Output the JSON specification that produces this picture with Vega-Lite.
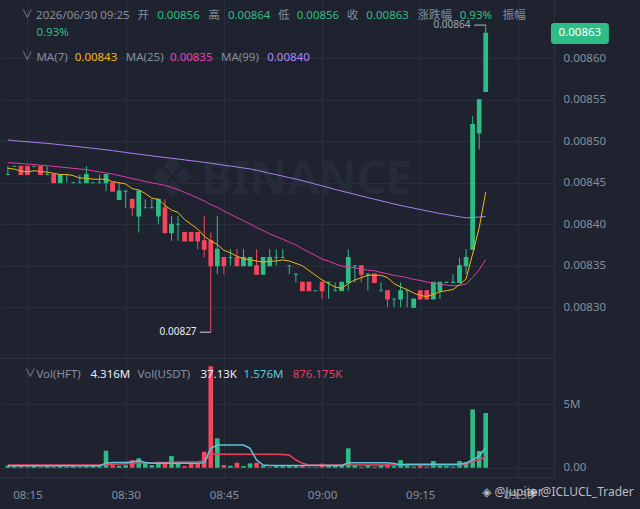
{
  "$schema": "https://vega.github.io/schema/vega-lite/v6.json",
  "background": "#1f2330",
  "padding": {"left": 0, "top": 0, "right": 640, "bottom": 509},
  "autosize": {"type": "none"},
  "spacing": 0,
  "config": {
    "view": {"stroke": null},
    "font": "Noto Sans, Noto Sans CJK SC, DejaVu Sans",
    "axis": {"labelColor": "#848e9c", "labelFontSize": 11.5, "labelFont": "Noto Sans", "gridColor": "#2a2f3c", "domainColor": "#2c313e", "ticks": false, "titleFontSize": 0}
  },
  "datasets": {
    "one": [{}],
    "k": [
      {"t":"2026-06-30T08:12:00","o":0.00846,"h":0.00847,"l":0.00846,"c":0.00846,"v":160000,"m7":0.0084675,"m25":0.0084742,"m99":0.0085016,"v5":160000,"v10":210000},
      {"t":"2026-06-30T08:13:00","o":0.00847,"h":0.00847,"l":0.00847,"c":0.00847,"v":120000,"m7":0.0084665,"m25":0.0084738,"m99":0.0085007,"v5":160000,"v10":210000},
      {"t":"2026-06-30T08:14:00","o":0.00847,"h":0.00847,"l":0.00846,"c":0.00846,"v":120000,"m7":0.0084640,"m25":0.0084732,"m99":0.0085000,"v5":160000,"v10":210000},
      {"t":"2026-06-30T08:15:00","o":0.00847,"h":0.00847,"l":0.00846,"c":0.00846,"v":80000,"m7":0.0084630,"m25":0.0084725,"m99":0.0084994,"v5":160000,"v10":210000},
      {"t":"2026-06-30T08:16:00","o":0.00847,"h":0.00847,"l":0.00847,"c":0.00847,"v":160000,"m7":0.0084645,"m25":0.0084720,"m99":0.0084988,"v5":160000,"v10":210000},
      {"t":"2026-06-30T08:17:00","o":0.00847,"h":0.00847,"l":0.00846,"c":0.00846,"v":80000,"m7":0.0084635,"m25":0.0084712,"m99":0.0084981,"v5":160000,"v10":210000},
      {"t":"2026-06-30T08:18:00","o":0.00846,"h":0.00847,"l":0.00846,"c":0.00846,"v":120000,"m7":0.0084629,"m25":0.0084705,"m99":0.0084975,"v5":160000,"v10":210000},
      {"t":"2026-06-30T08:19:00","o":0.00846,"h":0.00846,"l":0.00845,"c":0.00845,"v":80000,"m7":0.0084614,"m25":0.0084698,"m99":0.0084967,"v5":160000,"v10":210000},
      {"t":"2026-06-30T08:20:00","o":0.00845,"h":0.00846,"l":0.00845,"c":0.00846,"v":120000,"m7":0.0084600,"m25":0.0084690,"m99":0.0084959,"v5":160000,"v10":210000},
      {"t":"2026-06-30T08:21:00","o":0.00846,"h":0.00846,"l":0.00845,"c":0.00846,"v":80000,"m7":0.0084600,"m25":0.0084682,"m99":0.0084950,"v5":160000,"v10":210000},
      {"t":"2026-06-30T08:22:00","o":0.00845,"h":0.00845,"l":0.00845,"c":0.00845,"v":120000,"m7":0.0084586,"m25":0.0084674,"m99":0.0084942,"v5":160000,"v10":210000},
      {"t":"2026-06-30T08:23:00","o":0.00845,"h":0.00846,"l":0.00845,"c":0.00845,"v":80000,"m7":0.0084557,"m25":0.0084666,"m99":0.0084933,"v5":160000,"v10":210000},
      {"t":"2026-06-30T08:24:00","o":0.00845,"h":0.00847,"l":0.00845,"c":0.00846,"v":120000,"m7":0.0084557,"m25":0.0084658,"m99":0.0084924,"v5":160000,"v10":210000},
      {"t":"2026-06-30T08:25:00","o":0.00845,"h":0.00845,"l":0.00845,"c":0.00845,"v":160000,"m7":0.0084543,"m25":0.0084644,"m99":0.0084916,"v5":160000,"v10":210000},
      {"t":"2026-06-30T08:26:00","o":0.00845,"h":0.00846,"l":0.00845,"c":0.00845,"v":120000,"m7":0.0084543,"m25":0.0084630,"m99":0.0084906,"v5":160000,"v10":210000},
      {"t":"2026-06-30T08:27:00","o":0.00845,"h":0.00846,"l":0.00844,"c":0.00846,"v":1340000,"m7":0.0084543,"m25":0.0084618,"m99":0.0084897,"v5":350000,"v10":250000},
      {"t":"2026-06-30T08:28:00","o":0.00845,"h":0.00845,"l":0.00844,"c":0.00844,"v":200000,"m7":0.0084514,"m25":0.0084606,"m99":0.0084887,"v5":410000,"v10":270000},
      {"t":"2026-06-30T08:29:00","o":0.00843,"h":0.00845,"l":0.00843,"c":0.00844,"v":160000,"m7":0.0084500,"m25":0.0084588,"m99":0.0084876,"v5":410000,"v10":290000},
      {"t":"2026-06-30T08:30:00","o":0.00844,"h":0.00844,"l":0.00842,"c":0.00844,"v":200000,"m7":0.0084486,"m25":0.0084570,"m99":0.0084865,"v5":410000,"v10":310000},
      {"t":"2026-06-30T08:31:00","o":0.00843,"h":0.00843,"l":0.00841,"c":0.00842,"v":600000,"m7":0.0084429,"m25":0.0084550,"m99":0.0084855,"v5":450000,"v10":330000},
      {"t":"2026-06-30T08:32:00","o":0.00841,"h":0.00844,"l":0.00839,"c":0.00844,"v":740000,"m7":0.0084414,"m25":0.0084535,"m99":0.0084845,"v5":550000,"v10":350000},
      {"t":"2026-06-30T08:33:00","o":0.00842,"h":0.00843,"l":0.00842,"c":0.00842,"v":400000,"m7":0.0084371,"m25":0.0084515,"m99":0.0084834,"v5":410000,"v10":370000},
      {"t":"2026-06-30T08:34:00","o":0.00842,"h":0.00843,"l":0.00842,"c":0.00842,"v":200000,"m7":0.0084314,"m25":0.0084498,"m99":0.0084824,"v5":350000,"v10":380000},
      {"t":"2026-06-30T08:35:00","o":0.00841,"h":0.00843,"l":0.00840,"c":0.00843,"v":470000,"m7":0.0084300,"m25":0.0084485,"m99":0.0084814,"v5":350000,"v10":400000},
      {"t":"2026-06-30T08:36:00","o":0.00842,"h":0.00843,"l":0.00839,"c":0.00839,"v":400000,"m7":0.0084229,"m25":0.0084468,"m99":0.0084805,"v5":350000,"v10":410000},
      {"t":"2026-06-30T08:37:00","o":0.00839,"h":0.00841,"l":0.00838,"c":0.00840,"v":920000,"m7":0.0084171,"m25":0.0084444,"m99":0.0084795,"v5":350000,"v10":420000},
      {"t":"2026-06-30T08:38:00","o":0.00840,"h":0.00841,"l":0.00838,"c":0.00840,"v":470000,"m7":0.0084143,"m25":0.0084416,"m99":0.0084786,"v5":350000,"v10":440000},
      {"t":"2026-06-30T08:39:00","o":0.00839,"h":0.00839,"l":0.00838,"c":0.00838,"v":130000,"m7":0.0084057,"m25":0.0084384,"m99":0.0084776,"v5":350000,"v10":450000},
      {"t":"2026-06-30T08:40:00","o":0.00839,"h":0.00839,"l":0.00838,"c":0.00838,"v":320000,"m7":0.0084000,"m25":0.0084352,"m99":0.0084766,"v5":350000,"v10":460000},
      {"t":"2026-06-30T08:41:00","o":0.00839,"h":0.00839,"l":0.00837,"c":0.00838,"v":320000,"m7":0.0083943,"m25":0.0084316,"m99":0.0084757,"v5":350000,"v10":470000},
      {"t":"2026-06-30T08:42:00","o":0.00838,"h":0.00841,"l":0.00836,"c":0.00837,"v":1260000,"m7":0.0083857,"m25":0.0084280,"m99":0.0084746,"v5":400000,"v10":530000},
      {"t":"2026-06-30T08:43:00","o":0.00838,"h":0.00839,"l":0.00827,"c":0.00835,"v":8000000,"m7":0.0083800,"m25":0.0084236,"m99":0.0084735,"v5":1530000,"v10":1040000},
      {"t":"2026-06-30T08:44:00","o":0.00835,"h":0.00841,"l":0.00834,"c":0.00837,"v":2320000,"m7":0.0083757,"m25":0.0084204,"m99":0.0084724,"v5":1790000,"v10":1060000},
      {"t":"2026-06-30T08:45:00","o":0.00836,"h":0.00836,"l":0.00834,"c":0.00835,"v":210000,"m7":0.0083686,"m25":0.0084160,"m99":0.0084712,"v5":1790000,"v10":1060000},
      {"t":"2026-06-30T08:46:00","o":0.00836,"h":0.00837,"l":0.00835,"c":0.00836,"v":160000,"m7":0.0083657,"m25":0.0084120,"m99":0.0084701,"v5":1790000,"v10":1060000},
      {"t":"2026-06-30T08:47:00","o":0.00836,"h":0.00837,"l":0.00835,"c":0.00835,"v":400000,"m7":0.0083614,"m25":0.0084080,"m99":0.0084690,"v5":1790000,"v10":1060000},
      {"t":"2026-06-30T08:48:00","o":0.00835,"h":0.00837,"l":0.00835,"c":0.00836,"v":130000,"m7":0.0083586,"m25":0.0084044,"m99":0.0084678,"v5":1790000,"v10":1060000},
      {"t":"2026-06-30T08:49:00","o":0.00835,"h":0.00836,"l":0.00835,"c":0.00836,"v":340000,"m7":0.0083571,"m25":0.0084004,"m99":0.0084667,"v5":1530000,"v10":1060000},
      {"t":"2026-06-30T08:50:00","o":0.00835,"h":0.00837,"l":0.00834,"c":0.00834,"v":400000,"m7":0.0083557,"m25":0.0083960,"m99":0.0084651,"v5":610000,"v10":1060000},
      {"t":"2026-06-30T08:51:00","o":0.00834,"h":0.00836,"l":0.00834,"c":0.00836,"v":160000,"m7":0.0083543,"m25":0.0083924,"m99":0.0084633,"v5":210000,"v10":1060000},
      {"t":"2026-06-30T08:52:00","o":0.00835,"h":0.00837,"l":0.00835,"c":0.00836,"v":40000,"m7":0.0083557,"m25":0.0083884,"m99":0.0084614,"v5":180000,"v10":1060000},
      {"t":"2026-06-30T08:53:00","o":0.00836,"h":0.00837,"l":0.00835,"c":0.00836,"v":130000,"m7":0.0083557,"m25":0.0083852,"m99":0.0084598,"v5":180000,"v10":1060000},
      {"t":"2026-06-30T08:54:00","o":0.00836,"h":0.00837,"l":0.00836,"c":0.00836,"v":130000,"m7":0.0083571,"m25":0.0083820,"m99":0.0084580,"v5":180000,"v10":1040000},
      {"t":"2026-06-30T08:55:00","o":0.00835,"h":0.00835,"l":0.00834,"c":0.00835,"v":130000,"m7":0.0083557,"m25":0.0083784,"m99":0.0084561,"v5":180000,"v10":1000000},
      {"t":"2026-06-30T08:56:00","o":0.00834,"h":0.00834,"l":0.00833,"c":0.00834,"v":130000,"m7":0.0083529,"m25":0.0083752,"m99":0.0084545,"v5":180000,"v10":610000},
      {"t":"2026-06-30T08:57:00","o":0.00833,"h":0.00833,"l":0.00832,"c":0.00832,"v":210000,"m7":0.0083500,"m25":0.0083704,"m99":0.0084525,"v5":180000,"v10":350000},
      {"t":"2026-06-30T08:58:00","o":0.00833,"h":0.00833,"l":0.00832,"c":0.00832,"v":40000,"m7":0.0083443,"m25":0.0083664,"m99":0.0084505,"v5":180000,"v10":210000},
      {"t":"2026-06-30T08:59:00","o":0.00832,"h":0.00832,"l":0.00832,"c":0.00832,"v":40000,"m7":0.0083386,"m25":0.0083624,"m99":0.0084483,"v5":180000,"v10":210000},
      {"t":"2026-06-30T09:00:00","o":0.00833,"h":0.00833,"l":0.00831,"c":0.00832,"v":320000,"m7":0.0083329,"m25":0.0083580,"m99":0.0084463,"v5":180000,"v10":210000},
      {"t":"2026-06-30T09:01:00","o":0.00833,"h":0.00833,"l":0.00831,"c":0.00833,"v":210000,"m7":0.0083286,"m25":0.0083556,"m99":0.0084442,"v5":180000,"v10":210000},
      {"t":"2026-06-30T09:02:00","o":0.00832,"h":0.00833,"l":0.00832,"c":0.00832,"v":160000,"m7":0.0083243,"m25":0.0083524,"m99":0.0084420,"v5":180000,"v10":210000},
      {"t":"2026-06-30T09:03:00","o":0.00832,"h":0.00833,"l":0.00832,"c":0.00833,"v":130000,"m7":0.0083229,"m25":0.0083496,"m99":0.0084400,"v5":180000,"v10":210000},
      {"t":"2026-06-30T09:04:00","o":0.00833,"h":0.00837,"l":0.00832,"c":0.00836,"v":1530000,"m7":0.0083286,"m25":0.0083488,"m99":0.0084380,"v5":390000,"v10":210000},
      {"t":"2026-06-30T09:05:00","o":0.00835,"h":0.00835,"l":0.00833,"c":0.00835,"v":210000,"m7":0.0083329,"m25":0.0083476,"m99":0.0084360,"v5":390000,"v10":210000},
      {"t":"2026-06-30T09:06:00","o":0.00835,"h":0.00835,"l":0.00833,"c":0.00834,"v":80000,"m7":0.0083357,"m25":0.0083460,"m99":0.0084341,"v5":390000,"v10":210000},
      {"t":"2026-06-30T09:07:00","o":0.00834,"h":0.00834,"l":0.00832,"c":0.00834,"v":210000,"m7":0.0083386,"m25":0.0083448,"m99":0.0084321,"v5":390000,"v10":210000},
      {"t":"2026-06-30T09:08:00","o":0.00834,"h":0.00834,"l":0.00833,"c":0.00833,"v":80000,"m7":0.0083386,"m25":0.0083440,"m99":0.0084302,"v5":390000,"v10":210000},
      {"t":"2026-06-30T09:09:00","o":0.00832,"h":0.00833,"l":0.00832,"c":0.00832,"v":210000,"m7":0.0083386,"m25":0.0083420,"m99":0.0084283,"v5":390000,"v10":210000},
      {"t":"2026-06-30T09:10:00","o":0.00832,"h":0.00832,"l":0.00830,"c":0.00831,"v":260000,"m7":0.0083357,"m25":0.0083404,"m99":0.0084263,"v5":390000,"v10":210000},
      {"t":"2026-06-30T09:11:00","o":0.00831,"h":0.00831,"l":0.00830,"c":0.00831,"v":130000,"m7":0.0083286,"m25":0.0083384,"m99":0.0084245,"v5":330000,"v10":210000},
      {"t":"2026-06-30T09:12:00","o":0.00831,"h":0.00833,"l":0.00830,"c":0.00832,"v":600000,"m7":0.0083243,"m25":0.0083372,"m99":0.0084227,"v5":240000,"v10":210000},
      {"t":"2026-06-30T09:13:00","o":0.00832,"h":0.00832,"l":0.00830,"c":0.00832,"v":210000,"m7":0.0083214,"m25":0.0083356,"m99":0.0084210,"v5":270000,"v10":210000},
      {"t":"2026-06-30T09:14:00","o":0.00830,"h":0.00831,"l":0.00830,"c":0.00831,"v":80000,"m7":0.0083171,"m25":0.0083336,"m99":0.0084194,"v5":270000,"v10":210000},
      {"t":"2026-06-30T09:15:00","o":0.00832,"h":0.00832,"l":0.00831,"c":0.00831,"v":210000,"m7":0.0083143,"m25":0.0083324,"m99":0.0084178,"v5":270000,"v10":210000},
      {"t":"2026-06-30T09:16:00","o":0.00832,"h":0.00832,"l":0.00831,"c":0.00831,"v":80000,"m7":0.0083129,"m25":0.0083304,"m99":0.0084161,"v5":270000,"v10":210000},
      {"t":"2026-06-30T09:17:00","o":0.00831,"h":0.00833,"l":0.00831,"c":0.00833,"v":530000,"m7":0.0083157,"m25":0.0083292,"m99":0.0084146,"v5":270000,"v10":210000},
      {"t":"2026-06-30T09:18:00","o":0.00832,"h":0.00833,"l":0.00831,"c":0.00833,"v":160000,"m7":0.0083186,"m25":0.0083280,"m99":0.0084130,"v5":270000,"v10":210000},
      {"t":"2026-06-30T09:19:00","o":0.00833,"h":0.00833,"l":0.00833,"c":0.00833,"v":130000,"m7":0.0083200,"m25":0.0083268,"m99":0.0084117,"v5":270000,"v10":210000},
      {"t":"2026-06-30T09:20:00","o":0.00833,"h":0.00834,"l":0.00833,"c":0.00833,"v":80000,"m7":0.0083214,"m25":0.0083260,"m99":0.0084104,"v5":270000,"v10":210000},
      {"t":"2026-06-30T09:21:00","o":0.00833,"h":0.00836,"l":0.00833,"c":0.00835,"v":530000,"m7":0.0083271,"m25":0.0083264,"m99":0.0084090,"v5":270000,"v10":210000},
      {"t":"2026-06-30T09:22:00","o":0.00835,"h":0.00837,"l":0.00834,"c":0.00836,"v":420000,"m7":0.0083343,"m25":0.0083280,"m99":0.0084077,"v5":370000,"v10":290000},
      {"t":"2026-06-30T09:23:00","o":0.00837,"h":0.00853,"l":0.00837,"c":0.00852,"v":4600000,"m7":0.0083643,"m25":0.0083360,"m99":0.0084082,"v5":610000,"v10":490000},
      {"t":"2026-06-30T09:24:00","o":0.00851,"h":0.00855,"l":0.00849,"c":0.00855,"v":1320000,"m7":0.0083957,"m25":0.0083452,"m99":0.0084087,"v5":920000,"v10":610000},
      {"t":"2026-06-30T09:25:00","o":0.00856,"h":0.00864,"l":0.00856,"c":0.00863,"v":4316000,"m7":0.0084386,"m25":0.0083576,"m99":0.0084092,"v5":1576000,"v10":876175}
    ]
  },
  "vconcat": [
    {
      "width": 554,
      "height": 358,
      "data": {"name": "k"},
      "layer": [
        {
          "data": {"name": "one"},
          "mark": {"type": "text", "text": "BINANCE", "align": "left", "baseline": "middle", "fontSize": 46, "fontWeight": "bold", "color": "#262b39"},
          "encoding": {"x": {"datum": {"year": 2026, "month": 6, "date": 30, "hours": 8, "minutes": 41, "seconds": 34}, "type": "temporal"}, "y": {"datum": 0.0084534}}
        },
        {
          "data": {"name": "one"},
          "mark": {"type": "text", "text": "❖", "align": "center", "baseline": "middle", "fontSize": 56, "font": "DejaVu Sans", "color": "#262b39"},
          "encoding": {"x": {"datum": {"year": 2026, "month": 6, "date": 30, "hours": 8, "minutes": 37, "seconds": 10}, "type": "temporal"}, "y": {"datum": 0.0084534}}
        },
        {
          "mark": {"type": "rule", "strokeWidth": 1},
          "encoding": {
            "x": {"field": "t", "type": "temporal", "title": null,
              "scale": {"domain": [{"year": 2026, "month": 6, "date": 30, "hours": 8, "minutes": 11, "seconds": 34}, {"year": 2026, "month": 6, "date": 30, "hours": 9, "minutes": 34, "seconds": 40}]},
              "axis": {"labels": false, "ticks": false, "domain": true, "grid": true,
                "values": [{"year": 2026, "month": 6, "date": 30, "hours": 8, "minutes": 15}, {"year": 2026, "month": 6, "date": 30, "hours": 8, "minutes": 30}, {"year": 2026, "month": 6, "date": 30, "hours": 8, "minutes": 45}, {"year": 2026, "month": 6, "date": 30, "hours": 9, "minutes": 0}, {"year": 2026, "month": 6, "date": 30, "hours": 9, "minutes": 15}, {"year": 2026, "month": 6, "date": 30, "hours": 9, "minutes": 30}]}},
            "y": {"field": "l", "type": "quantitative", "title": null,
              "scale": {"domain": [0.0082389, 0.0086702], "zero": false, "nice": false},
              "axis": {"orient": "right", "values": [0.0083, 0.00835, 0.0084, 0.00845, 0.0085, 0.00855, 0.0086], "format": ".5f", "labelPadding": 9, "grid": true, "domain": true}},
            "y2": {"field": "h"},
            "color": {"condition": {"test": "datum.c >= datum.o", "value": "#2ebd85"}, "value": "#f6465d"}
          }
        },
        {
          "mark": {"type": "bar", "width": 3.6, "strokeWidth": 1.1},
          "encoding": {
            "x": {"field": "t", "type": "temporal", "title": null},
            "y": {"field": "o", "type": "quantitative", "title": null},
            "y2": {"field": "c"},
            "color": {"condition": {"test": "datum.c >= datum.o", "value": "#2ebd85"}, "value": "#f6465d"},
            "stroke": {"condition": {"test": "datum.c >= datum.o", "value": "#2ebd85"}, "value": "#f6465d"}
          }
        },
        {
          "mark": {"type": "line", "strokeWidth": 1, "color": "#a97ff0"},
          "encoding": {"x": {"field": "t", "type": "temporal", "title": null}, "y": {"field": "m99", "type": "quantitative", "title": null}}
        },
        {
          "mark": {"type": "line", "strokeWidth": 1, "color": "#e03aa8"},
          "encoding": {"x": {"field": "t", "type": "temporal", "title": null}, "y": {"field": "m25", "type": "quantitative", "title": null}}
        },
        {
          "mark": {"type": "line", "strokeWidth": 1, "color": "#f0b90b"},
          "encoding": {"x": {"field": "t", "type": "temporal", "title": null}, "y": {"field": "m7", "type": "quantitative", "title": null}}
        },
        {
          "data": {"name": "one"},
          "mark": {"type": "rule", "strokeWidth": 1, "color": "#b7bdc6"},
          "encoding": {"x": {"datum": {"year": 2026, "month": 6, "date": 30, "hours": 9, "minutes": 23, "seconds": 15}, "type": "temporal"}, "x2": {"datum": {"year": 2026, "month": 6, "date": 30, "hours": 9, "minutes": 25, "seconds": 0}}, "y": {"datum": 0.00864}}
        },
        {
          "data": {"name": "one"},
          "mark": {"type": "text", "text": "0.00864", "align": "right", "baseline": "middle", "fontSize": 10, "color": "#9ea4ad"},
          "encoding": {"x": {"datum": {"year": 2026, "month": 6, "date": 30, "hours": 9, "minutes": 22, "seconds": 40}, "type": "temporal"}, "y": {"datum": 0.00864}}
        },
        {
          "data": {"name": "one"},
          "mark": {"type": "rule", "strokeWidth": 1, "color": "#d5d8dd"},
          "encoding": {"x": {"datum": {"year": 2026, "month": 6, "date": 30, "hours": 8, "minutes": 41, "seconds": 20}, "type": "temporal"}, "x2": {"datum": {"year": 2026, "month": 6, "date": 30, "hours": 8, "minutes": 43, "seconds": 0}}, "y": {"datum": 0.00827}}
        },
        {
          "data": {"name": "one"},
          "mark": {"type": "text", "text": "0.00827", "align": "right", "baseline": "middle", "fontSize": 10, "color": "#eaecef"},
          "encoding": {"x": {"datum": {"year": 2026, "month": 6, "date": 30, "hours": 8, "minutes": 40, "seconds": 50}, "type": "temporal"}, "y": {"datum": 0.00827}}
        },
        {
          "data": {"name": "one"},
          "mark": {"type": "rect", "color": "#2ebd85", "cornerRadius": 3},
          "encoding": {"x": {"datum": {"year": 2026, "month": 6, "date": 30, "hours": 9, "minutes": 34, "seconds": 58}, "type": "temporal"}, "x2": {"datum": {"year": 2026, "month": 6, "date": 30, "hours": 9, "minutes": 43, "seconds": 49}}, "y": {"datum": 0.0086425}, "y2": {"datum": 0.0086172}}
        },
        {
          "data": {"name": "one"},
          "mark": {"type": "text", "text": "0.00863", "align": "center", "baseline": "middle", "fontSize": 11.5, "color": "#ffffff"},
          "encoding": {"x": {"datum": {"year": 2026, "month": 6, "date": 30, "hours": 9, "minutes": 39, "seconds": 23}, "type": "temporal"}, "y": {"datum": 0.0086300}}
        },
        {"data": {"name": "one"}, "mark": {"type": "text", "text": "∨", "align": "left", "baseline": "middle", "fontSize": 11, "color": "#848e9c"}, "encoding": {"x": {"datum": {"year": 2026, "month": 6, "date": 30, "hours": 8, "minutes": 14, "seconds": 7}, "type": "temporal"}, "y": {"datum": 0.008652}}},
        {"data": {"name": "one"}, "mark": {"type": "text", "text": "2026/06/30 09:25", "align": "left", "baseline": "middle", "fontSize": 11.5, "color": "#848e9c"}, "encoding": {"x": {"datum": {"year": 2026, "month": 6, "date": 30, "hours": 8, "minutes": 16, "seconds": 19}, "type": "temporal"}, "y": {"datum": 0.008651}}},
        {"data": {"name": "one"}, "mark": {"type": "text", "text": "开", "align": "left", "baseline": "middle", "fontSize": 11.5, "color": "#848e9c"}, "encoding": {"x": {"datum": {"year": 2026, "month": 6, "date": 30, "hours": 8, "minutes": 31, "seconds": 49}, "type": "temporal"}, "y": {"datum": 0.008651}}},
        {"data": {"name": "one"}, "mark": {"type": "text", "text": "0.00856", "align": "left", "baseline": "middle", "fontSize": 11.5, "color": "#2ebd85"}, "encoding": {"x": {"datum": {"year": 2026, "month": 6, "date": 30, "hours": 8, "minutes": 34, "seconds": 49}, "type": "temporal"}, "y": {"datum": 0.008651}}},
        {"data": {"name": "one"}, "mark": {"type": "text", "text": "高", "align": "left", "baseline": "middle", "fontSize": 11.5, "color": "#848e9c"}, "encoding": {"x": {"datum": {"year": 2026, "month": 6, "date": 30, "hours": 8, "minutes": 42, "seconds": 37}, "type": "temporal"}, "y": {"datum": 0.008651}}},
        {"data": {"name": "one"}, "mark": {"type": "text", "text": "0.00864", "align": "left", "baseline": "middle", "fontSize": 11.5, "color": "#2ebd85"}, "encoding": {"x": {"datum": {"year": 2026, "month": 6, "date": 30, "hours": 8, "minutes": 45, "seconds": 37}, "type": "temporal"}, "y": {"datum": 0.008651}}},
        {"data": {"name": "one"}, "mark": {"type": "text", "text": "低", "align": "left", "baseline": "middle", "fontSize": 11.5, "color": "#848e9c"}, "encoding": {"x": {"datum": {"year": 2026, "month": 6, "date": 30, "hours": 8, "minutes": 53, "seconds": 16}, "type": "temporal"}, "y": {"datum": 0.008651}}},
        {"data": {"name": "one"}, "mark": {"type": "text", "text": "0.00856", "align": "left", "baseline": "middle", "fontSize": 11.5, "color": "#2ebd85"}, "encoding": {"x": {"datum": {"year": 2026, "month": 6, "date": 30, "hours": 8, "minutes": 56, "seconds": 7}, "type": "temporal"}, "y": {"datum": 0.008651}}},
        {"data": {"name": "one"}, "mark": {"type": "text", "text": "收", "align": "left", "baseline": "middle", "fontSize": 11.5, "color": "#848e9c"}, "encoding": {"x": {"datum": {"year": 2026, "month": 6, "date": 30, "hours": 9, "minutes": 3, "seconds": 46}, "type": "temporal"}, "y": {"datum": 0.008651}}},
        {"data": {"name": "one"}, "mark": {"type": "text", "text": "0.00863", "align": "left", "baseline": "middle", "fontSize": 11.5, "color": "#2ebd85"}, "encoding": {"x": {"datum": {"year": 2026, "month": 6, "date": 30, "hours": 9, "minutes": 6, "seconds": 46}, "type": "temporal"}, "y": {"datum": 0.008651}}},
        {"data": {"name": "one"}, "mark": {"type": "text", "text": "涨跌幅", "align": "left", "baseline": "middle", "fontSize": 11.5, "color": "#848e9c"}, "encoding": {"x": {"datum": {"year": 2026, "month": 6, "date": 30, "hours": 9, "minutes": 14, "seconds": 34}, "type": "temporal"}, "y": {"datum": 0.008651}}},
        {"data": {"name": "one"}, "mark": {"type": "text", "text": "0.93%", "align": "left", "baseline": "middle", "fontSize": 11.5, "color": "#2ebd85"}, "encoding": {"x": {"datum": {"year": 2026, "month": 6, "date": 30, "hours": 9, "minutes": 21, "seconds": 1}, "type": "temporal"}, "y": {"datum": 0.008651}}},
        {"data": {"name": "one"}, "mark": {"type": "text", "text": "振幅", "align": "left", "baseline": "middle", "fontSize": 11.5, "color": "#848e9c"}, "encoding": {"x": {"datum": {"year": 2026, "month": 6, "date": 30, "hours": 9, "minutes": 27, "seconds": 37}, "type": "temporal"}, "y": {"datum": 0.008651}}},
        {"data": {"name": "one"}, "mark": {"type": "text", "text": "0.93%", "align": "left", "baseline": "middle", "fontSize": 11.5, "color": "#2ebd85"}, "encoding": {"x": {"datum": {"year": 2026, "month": 6, "date": 30, "hours": 8, "minutes": 16, "seconds": 22}, "type": "temporal"}, "y": {"datum": 0.0086305}}},
        {"data": {"name": "one"}, "mark": {"type": "text", "text": "∨", "align": "left", "baseline": "middle", "fontSize": 11, "color": "#848e9c"}, "encoding": {"x": {"datum": {"year": 2026, "month": 6, "date": 30, "hours": 8, "minutes": 14, "seconds": 7}, "type": "temporal"}, "y": {"datum": 0.0086014}}},
        {"data": {"name": "one"}, "mark": {"type": "text", "text": "MA(7)", "align": "left", "baseline": "middle", "fontSize": 11.5, "color": "#848e9c"}, "encoding": {"x": {"datum": {"year": 2026, "month": 6, "date": 30, "hours": 8, "minutes": 16, "seconds": 22}, "type": "temporal"}, "y": {"datum": 0.0086004}}},
        {"data": {"name": "one"}, "mark": {"type": "text", "text": "0.00843", "align": "left", "baseline": "middle", "fontSize": 11.5, "color": "#f0b90b"}, "encoding": {"x": {"datum": {"year": 2026, "month": 6, "date": 30, "hours": 8, "minutes": 22, "seconds": 13}, "type": "temporal"}, "y": {"datum": 0.0086004}}},
        {"data": {"name": "one"}, "mark": {"type": "text", "text": "MA(25)", "align": "left", "baseline": "middle", "fontSize": 11.5, "color": "#848e9c"}, "encoding": {"x": {"datum": {"year": 2026, "month": 6, "date": 30, "hours": 8, "minutes": 30, "seconds": 1}, "type": "temporal"}, "y": {"datum": 0.0086004}}},
        {"data": {"name": "one"}, "mark": {"type": "text", "text": "0.00835", "align": "left", "baseline": "middle", "fontSize": 11.5, "color": "#eb40b5"}, "encoding": {"x": {"datum": {"year": 2026, "month": 6, "date": 30, "hours": 8, "minutes": 36, "seconds": 46}, "type": "temporal"}, "y": {"datum": 0.0086004}}},
        {"data": {"name": "one"}, "mark": {"type": "text", "text": "MA(99)", "align": "left", "baseline": "middle", "fontSize": 11.5, "color": "#848e9c"}, "encoding": {"x": {"datum": {"year": 2026, "month": 6, "date": 30, "hours": 8, "minutes": 44, "seconds": 34}, "type": "temporal"}, "y": {"datum": 0.0086004}}},
        {"data": {"name": "one"}, "mark": {"type": "text", "text": "0.00840", "align": "left", "baseline": "middle", "fontSize": 11.5, "color": "#b385f8"}, "encoding": {"x": {"datum": {"year": 2026, "month": 6, "date": 30, "hours": 8, "minutes": 51, "seconds": 37}, "type": "temporal"}, "y": {"datum": 0.0086004}}}
      ]
    },
    {
      "width": 554,
      "height": 119,
      "data": {"name": "k"},
      "layer": [
        {
          "mark": {"type": "bar", "width": 4.6},
          "encoding": {
            "x": {"field": "t", "type": "temporal", "title": null,
              "scale": {"domain": [{"year": 2026, "month": 6, "date": 30, "hours": 8, "minutes": 11, "seconds": 34}, {"year": 2026, "month": 6, "date": 30, "hours": 9, "minutes": 34, "seconds": 40}]},
              "axis": {"format": "%H:%M", "ticks": false, "domain": true, "grid": true, "labelPadding": 12, "labelFlush": false,
                "values": [{"year": 2026, "month": 6, "date": 30, "hours": 8, "minutes": 15}, {"year": 2026, "month": 6, "date": 30, "hours": 8, "minutes": 30}, {"year": 2026, "month": 6, "date": 30, "hours": 8, "minutes": 45}, {"year": 2026, "month": 6, "date": 30, "hours": 9, "minutes": 0}, {"year": 2026, "month": 6, "date": 30, "hours": 9, "minutes": 15}, {"year": 2026, "month": 6, "date": 30, "hours": 9, "minutes": 30}]}},
            "y": {"field": "v", "type": "quantitative", "title": null,
              "scale": {"domain": [-730000, 8650000], "nice": false, "zero": false},
              "axis": {"orient": "right", "values": [0, 5000000], "labelExpr": "datum.value == 0 ? '0.00' : '5M'", "labelPadding": 9, "grid": true, "domain": true}},
            "y2": {"datum": 0},
            "color": {"condition": {"test": "datum.c >= datum.o", "value": "#2ebd85"}, "value": "#f6465d"}
          }
        },
        {
          "mark": {"type": "line", "strokeWidth": 1.5, "color": "#e8405f"},
          "encoding": {"x": {"field": "t", "type": "temporal", "title": null}, "y": {"field": "v10", "type": "quantitative", "title": null}}
        },
        {
          "mark": {"type": "line", "strokeWidth": 1.5, "color": "#5ec3d8"},
          "encoding": {"x": {"field": "t", "type": "temporal", "title": null}, "y": {"field": "v5", "type": "quantitative", "title": null}}
        },
        {"data": {"name": "one"}, "mark": {"type": "text", "text": "∨", "align": "left", "baseline": "middle", "fontSize": 11, "color": "#848e9c"}, "encoding": {"x": {"datum": {"year": 2026, "month": 6, "date": 30, "hours": 8, "minutes": 14, "seconds": 34}, "type": "temporal"}, "y": {"datum": 7394000}}},
        {"data": {"name": "one"}, "mark": {"type": "text", "text": "Vol(HFT)", "align": "left", "baseline": "middle", "fontSize": 11.5, "color": "#848e9c"}, "encoding": {"x": {"datum": {"year": 2026, "month": 6, "date": 30, "hours": 8, "minutes": 16, "seconds": 22}, "type": "temporal"}, "y": {"datum": 7314000}}},
        {"data": {"name": "one"}, "mark": {"type": "text", "text": "4.316M", "align": "left", "baseline": "middle", "fontSize": 11.5, "color": "#eaecef"}, "encoding": {"x": {"datum": {"year": 2026, "month": 6, "date": 30, "hours": 8, "minutes": 24, "seconds": 37}, "type": "temporal"}, "y": {"datum": 7314000}}},
        {"data": {"name": "one"}, "mark": {"type": "text", "text": "Vol(USDT)", "align": "left", "baseline": "middle", "fontSize": 11.5, "color": "#848e9c"}, "encoding": {"x": {"datum": {"year": 2026, "month": 6, "date": 30, "hours": 8, "minutes": 31, "seconds": 49}, "type": "temporal"}, "y": {"datum": 7314000}}},
        {"data": {"name": "one"}, "mark": {"type": "text", "text": "37.13K", "align": "left", "baseline": "middle", "fontSize": 11.5, "color": "#eaecef"}, "encoding": {"x": {"datum": {"year": 2026, "month": 6, "date": 30, "hours": 8, "minutes": 41, "seconds": 25}, "type": "temporal"}, "y": {"datum": 7314000}}},
        {"data": {"name": "one"}, "mark": {"type": "text", "text": "1.576M", "align": "left", "baseline": "middle", "fontSize": 11.5, "color": "#5ec3d8"}, "encoding": {"x": {"datum": {"year": 2026, "month": 6, "date": 30, "hours": 8, "minutes": 48, "seconds": 1}, "type": "temporal"}, "y": {"datum": 7314000}}},
        {"data": {"name": "one"}, "mark": {"type": "text", "text": "876.175K", "align": "left", "baseline": "middle", "fontSize": 11.5, "color": "#e8405f"}, "encoding": {"x": {"datum": {"year": 2026, "month": 6, "date": 30, "hours": 8, "minutes": 55, "seconds": 31}, "type": "temporal"}, "y": {"datum": 7314000}}},
        {"data": {"name": "one"}, "mark": {"type": "text", "text": "◈ @Jupiter", "align": "left", "baseline": "middle", "fontSize": 12, "color": "#c9ccd2", "opacity": 0.9}, "encoding": {"x": {"datum": {"year": 2026, "month": 6, "date": 30, "hours": 9, "minutes": 24, "seconds": 28}, "type": "temporal"}, "y": {"datum": -1917000}}},
        {"data": {"name": "one"}, "mark": {"type": "text", "text": "◈ @ICLUCL_Trader", "align": "left", "baseline": "middle", "fontSize": 12, "color": "#c9ccd2", "opacity": 0.9}, "encoding": {"x": {"datum": {"year": 2026, "month": 6, "date": 30, "hours": 9, "minutes": 31, "seconds": 30}, "type": "temporal"}, "y": {"datum": -1917000}}}
      ]
    }
  ]
}
